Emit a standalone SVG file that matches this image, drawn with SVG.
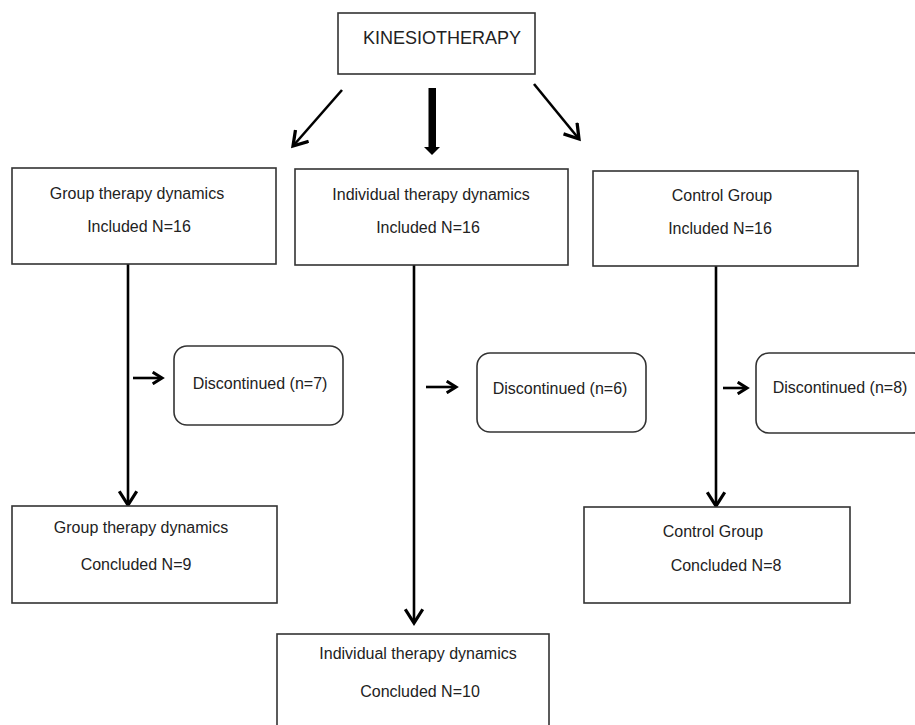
<svg xmlns="http://www.w3.org/2000/svg" width="915" height="725" viewBox="0 0 915 725">
<style>
.box{fill:#fff;stroke:#333;stroke-width:1.6}
.t{font-family:"Liberation Sans",Arial,sans-serif;font-size:16px;fill:#222;text-anchor:middle}
.ln{stroke:#000;stroke-width:2.6;fill:none}
.sm{stroke:#000;stroke-width:2.6;fill:none}
</style>
<defs>
<marker id="ah" markerUnits="userSpaceOnUse" markerWidth="20" markerHeight="20" refX="12" refY="8" orient="auto" viewBox="0 0 16 16">
<path d="M1,1 L12,8 L1,15" fill="none" stroke="#000" stroke-width="2.6"/>
</marker>
<marker id="ahs" markerUnits="userSpaceOnUse" markerWidth="14" markerHeight="14" refX="9" refY="6" orient="auto" viewBox="0 0 12 12">
<path d="M1,1 L9,6 L1,11" fill="none" stroke="#000" stroke-width="2.6"/>
</marker>
</defs>
<rect width="915" height="725" fill="#fff"/>
<g id="connectors">
<line class="ln" x1="342" y1="90" x2="293" y2="146" marker-end="url(#ah)"/>
<rect x="428.5" y="88" width="7.5" height="60" fill="#000"/>
<polygon points="424,147 440,147 432,155" fill="#000"/>
<line class="ln" x1="534" y1="84" x2="579" y2="139" marker-end="url(#ah)"/>
<line class="ln" x1="128" y1="264" x2="128" y2="505" marker-end="url(#ah)"/>
<line class="ln" x1="414" y1="265" x2="414" y2="623" marker-end="url(#ah)"/>
<line class="ln" x1="716" y1="266" x2="716" y2="506" marker-end="url(#ah)"/>
<line class="sm" x1="133" y1="378" x2="162" y2="378" marker-end="url(#ahs)"/>
<line class="sm" x1="426" y1="387" x2="456" y2="387" marker-end="url(#ahs)"/>
<line class="sm" x1="723" y1="388" x2="747" y2="388" marker-end="url(#ahs)"/>
</g>
<g id="kinesiotherapy">
<rect class="box" x="338" y="13" width="197" height="61"/>
<text class="t" x="363" y="44" style="text-anchor:start;font-size:18px">KINESIOTHERAPY</text>
</g>
<g id="group-included">
<rect class="box" x="12" y="168" width="264" height="96"/>
<text class="t" x="137" y="199">Group therapy dynamics</text>
<text class="t" x="139" y="232">Included N=16</text>
</g>
<g id="individual-included">
<rect class="box" x="295" y="169" width="273" height="96"/>
<text class="t" x="431" y="200">Individual therapy dynamics</text>
<text class="t" x="428" y="233">Included N=16</text>
</g>
<g id="control-included">
<rect class="box" x="593" y="171" width="265" height="95"/>
<text class="t" x="722" y="201">Control Group</text>
<text class="t" x="720" y="234">Included N=16</text>
</g>
<g id="group-discontinued">
<rect class="box" x="174" y="346" width="169" height="79" rx="13"/>
<text class="t" x="260" y="389">Discontinued (n=7)</text>
</g>
<g id="individual-discontinued">
<rect class="box" x="477" y="353" width="169" height="79" rx="13"/>
<text class="t" x="560" y="394">Discontinued (n=6)</text>
</g>
<g id="control-discontinued">
<rect class="box" x="756" y="353" width="170" height="80" rx="13"/>
<text class="t" x="840" y="393">Discontinued (n=8)</text>
</g>
<g id="group-concluded">
<rect class="box" x="12" y="506" width="265" height="97"/>
<text class="t" x="141" y="533">Group therapy dynamics</text>
<text class="t" x="136" y="570">Concluded N=9</text>
</g>
<g id="control-concluded">
<rect class="box" x="584" y="507" width="266" height="96"/>
<text class="t" x="713" y="537">Control Group</text>
<text class="t" x="726" y="571">Concluded N=8</text>
</g>
<g id="individual-concluded">
<rect class="box" x="277" y="634" width="272" height="100"/>
<text class="t" x="418" y="659">Individual therapy dynamics</text>
<text class="t" x="420" y="697">Concluded N=10</text>
</g>
</svg>
